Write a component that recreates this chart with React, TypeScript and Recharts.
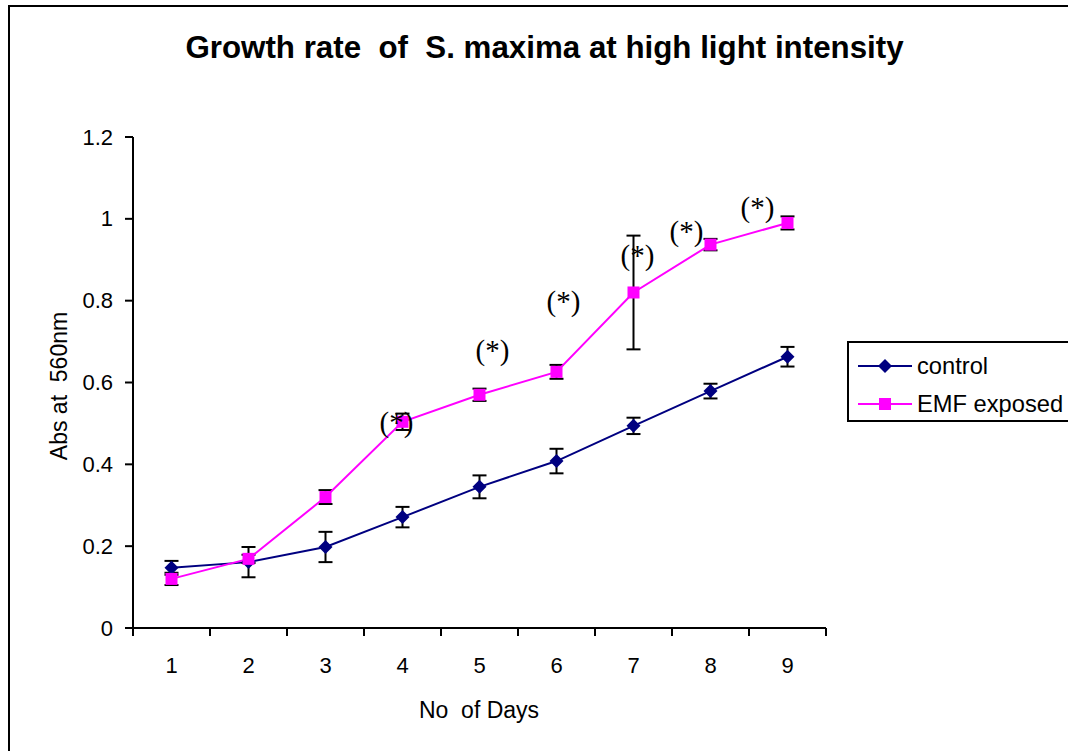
import React from 'react';
import { ComposedChart, Line, XAxis, YAxis, ErrorBar, Legend } from 'recharts';

const DAYS = ['1', '2', '3', '4', '5', '6', '7', '8', '9'];
const CONTROL = [0.147, 0.161, 0.198, 0.271, 0.345, 0.408, 0.494, 0.579, 0.663];
const CONTROL_ERR = [0.017, 0.037, 0.037, 0.025, 0.028, 0.03, 0.02, 0.018, 0.024];
const EMF = [0.12, 0.169, 0.32, 0.504, 0.57, 0.626, 0.82, 0.937, 0.99];
const EMF_ERR = [0.015, 0.01, 0.017, 0.02, 0.015, 0.017, 0.139, 0.014, 0.016];
// height where each "(*)" mark sits, in Abs units (null = no mark)
const STAR = [null, null, null, 0.504, 0.68, 0.8, 0.912, 0.971, 1.029];
const Y_TICKS = [0, 0.2, 0.4, 0.6, 0.8, 1, 1.2];
const SERIES_ORDER = ['control', 'emf'];

const STAR_DX = [0, 0, 0, -6, 13, 7, 4, -24, -30];

const W = 1068;
const H = 751;
const MARGIN = { top: 137, right: 242, bottom: 93, left: 73 };
const PLOT_W = W - MARGIN.left - 60 - MARGIN.right;
const BAND = PLOT_W / DAYS.length;
const SANS = '"Liberation Sans", Arial, sans-serif';

const data = DAYS.map((day, i) => ({
  day,
  control: CONTROL[i],
  controlErr: CONTROL_ERR[i],
  emf: EMF[i],
  emfErr: EMF_ERR[i],
  star: STAR[i],
}));

const Diamond = (props: any) => {
  const { cx, cy, key } = props;
  if (cx == null || cy == null) return null;
  const r = 7;
  return (
    <polygon
      key={key}
      points={`${cx},${cy - r} ${cx + r},${cy} ${cx},${cy + r} ${cx - r},${cy}`}
      fill="#000080"
    />
  );
};

const Square = (props: any) => {
  const { cx, cy, key } = props;
  if (cx == null || cy == null) return null;
  const s = 12;
  return <rect key={key} x={cx - s / 2} y={cy - s / 2} width={s} height={s} fill="#ff00ff" />;
};

const DayTick = (props: any) => {
  const { x, y, payload, index } = props;
  const last = index === DAYS.length - 1;
  return (
    <g>
      <line x1={x - BAND / 2} x2={x - BAND / 2} y1={y} y2={y + 8} stroke="#000" strokeWidth={2} />
      {last && <line x1={x + BAND / 2} x2={x + BAND / 2} y1={y} y2={y + 8} stroke="#000" strokeWidth={2} />}
      <text x={x} y={y + 45} textAnchor="middle" style={{ fontSize: 22, fontFamily: SANS }} fill="#000">
        {payload.value}
      </text>
    </g>
  );
};

const AbsTick = (props: any) => {
  const { x, y, payload } = props;
  return (
    <text
      x={x}
      y={y}
      textAnchor="end"
      dominantBaseline="central"
      style={{ fontSize: 22, fontFamily: SANS }}
      fill="#000"
    >
      {payload.value}
    </text>
  );
};

const StarLabel = (props: any) => {
  const { x, y, value, index } = props;
  if (value == null || x == null || y == null) return null;
  return (
    <text
      x={x + STAR_DX[index]}
      y={y}
      textAnchor="middle"
      dominantBaseline="central"
      style={{ fontSize: 29, fontFamily: '"Liberation Serif", "Times New Roman", serif' }}
      fill="#000"
    >
      (*)
    </text>
  );
};

const LegendBox = (props: any) => {
  const items = (props.payload || [])
    .filter((p: any) => SERIES_ORDER.includes(p.dataKey))
    .sort((a: any, b: any) => SERIES_ORDER.indexOf(a.dataKey) - SERIES_ORDER.indexOf(b.dataKey));
  return (
    <div
      style={{
        border: '2px solid #000',
        width: 260,
        height: 81,
        boxSizing: 'border-box',
        padding: '4px 0 0 9px',
        fontFamily: SANS,
        fontSize: 23.7,
        background: '#fff',
      }}
    >
      {items.map((p: any) => (
        <div key={p.dataKey} style={{ display: 'flex', alignItems: 'center', height: 38 }}>
          <svg width={58} height={20} style={{ marginRight: 1 }}>
            <line x1={0} x2={54} y1={10} y2={10} stroke={p.color} strokeWidth={2} />
            {p.dataKey === 'control' ? (
              <polygon points="27,3 34,10 27,17 20,10" fill="#000080" />
            ) : (
              <rect x={21} y={4} width={12} height={12} fill="#ff00ff" />
            )}
          </svg>
          <span>{p.value}</span>
        </div>
      ))}
    </div>
  );
};

export default function App() {
  return (
    <div
      style={{
        position: 'absolute',
        left: 0,
        top: 0,
        width: W,
        height: H,
        overflow: 'hidden',
        background: '#fff',
        fontFamily: SANS,
      }}
    >
      <div
        style={{
          position: 'absolute',
          left: 8,
          top: 5,
          width: W + 50,
          height: H + 50,
          border: '2px solid #000',
        }}
      />
      <div
        style={{
          position: 'absolute',
          left: 0,
          width: 1089,
          top: 30,
          textAlign: 'center',
          fontSize: 31.3,
          fontWeight: 'bold',
          whiteSpace: 'pre',
          lineHeight: '36px',
        }}
      >
        {'Growth rate  of  S. maxima at high light intensity'}
      </div>
      <div
        style={{
          position: 'absolute',
          left: 59,
          top: 386,
          transform: 'translate(-50%, -50%) rotate(-90deg)',
          fontSize: 23,
          whiteSpace: 'pre',
        }}
      >
        {'Abs at  560nm'}
      </div>
      <div
        style={{
          position: 'absolute',
          left: 479,
          top: 710,
          transform: 'translate(-50%, -50%)',
          fontSize: 23,
          whiteSpace: 'pre',
        }}
      >
        {'No  of Days'}
      </div>
      <div style={{ position: 'absolute', left: 0, top: 0 }}>
        <ComposedChart width={W} height={H} data={data} margin={MARGIN}>
          <XAxis
            dataKey="day"
            interval={0}
            height={30}
            padding={{ left: BAND / 2, right: BAND / 2 }}
            tickSize={0}
            tickMargin={0}
            tickLine={false}
            tick={<DayTick />}
            stroke="#000"
            strokeWidth={2}
          />
          <YAxis
            domain={[0, 1.2]}
            ticks={Y_TICKS}
            width={60}
            tickSize={8}
            tickMargin={12}
            stroke="#000"
            strokeWidth={2}
            tick={<AbsTick />}
            tickLine={{ stroke: '#000', strokeWidth: 2 }}
          />
          <Line
            dataKey="control"
            name="control"
            stroke="#000080"
            strokeWidth={2}
            dot={Diamond}
            activeDot={false}
            isAnimationActive={false}
          >
            <ErrorBar dataKey="controlErr" width={7} stroke="#000" strokeWidth={2} />
          </Line>
          <Line
            dataKey="emf"
            name="EMF exposed"
            stroke="#ff00ff"
            strokeWidth={2}
            dot={Square}
            activeDot={false}
            isAnimationActive={false}
          >
            <ErrorBar dataKey="emfErr" width={7} stroke="#000" strokeWidth={2} />
          </Line>
          <Line
            dataKey="star"
            stroke="none"
            dot={false}
            activeDot={false}
            legendType="none"
            label={StarLabel}
            isAnimationActive={false}
          />
          <Legend
            layout="vertical"
            align="center"
            verticalAlign="middle"
            content={LegendBox}
            wrapperStyle={{ position: 'absolute', left: 847, top: 341, width: 260 }}
          />
        </ComposedChart>
      </div>
    </div>
  );
}
